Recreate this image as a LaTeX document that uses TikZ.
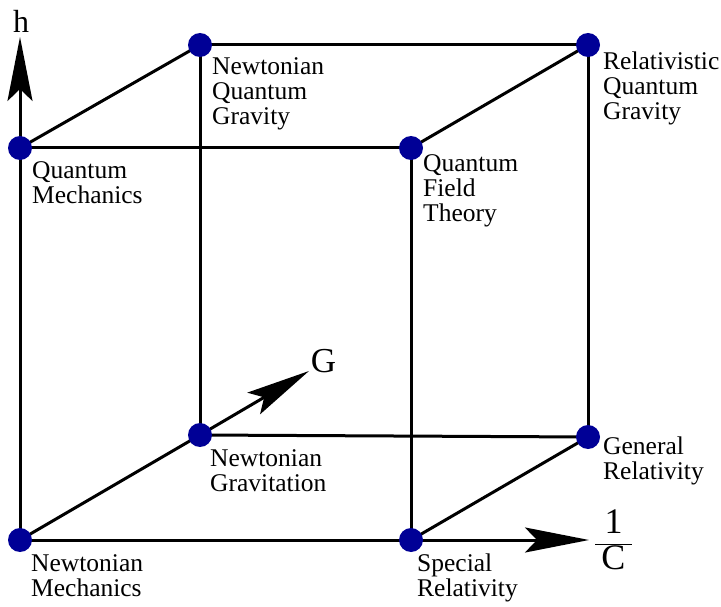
\documentclass[tikz,border=0pt]{standalone}
\usepackage{fontspec}
\setmainfont{Liberation Serif}
\usetikzlibrary{arrows.meta}
\begin{document}
\begin{tikzpicture}[x=1pt,y=-1pt,
  dot/.style={circle,fill={rgb,255:red,0;green,0;blue,150},minimum size=24pt,inner sep=0pt},
  edge/.style={line width=3pt,black},
  axis/.style={line width=3pt,-{Stealth[length=64pt,width=25pt,inset=12pt]}},
  lbl/.style={anchor=north west,inner sep=0pt,align=left,font=\fontsize{25.5}{25}\selectfont},
  axlbl/.style={inner sep=0pt}]
\useasboundingbox (0,0) rectangle (721,607);
% corners
\coordinate (NMp) at (20,540);
\coordinate (SRp) at (411,540);
\coordinate (NGp) at (200,435);
\coordinate (GRp) at (588,437);
\coordinate (QMp) at (20,148);
\coordinate (QFTp) at (411,148);
\coordinate (NQGp) at (200,45);
\coordinate (RQGp) at (588,45);
% axis ends
\coordinate (hEnd) at (20,37);
\coordinate (cEnd) at (589,540);
\coordinate (gEnd) at (309,371);
% edges
\draw[edge] (NMp) -- (SRp);
\draw[edge] (NMp) -- (NGp);
\draw[edge] (NMp) -- (QMp);
\draw[edge] (SRp) -- (GRp);
\draw[edge] (SRp) -- (QFTp);
\draw[edge] (NGp) -- (GRp);
\draw[edge] (NGp) -- (NQGp);
\draw[edge] (GRp) -- (RQGp);
\draw[edge] (QMp) -- (QFTp);
\draw[edge] (QMp) -- (NQGp);
\draw[edge] (QFTp) -- (RQGp);
\draw[edge] (NQGp) -- (RQGp);
% axes
\draw[axis] (QMp) -- (hEnd);
\draw[axis] (SRp) -- (cEnd);
\draw[axis] (NGp) -- (gEnd);
% dots
\node[dot] (NM) at (NMp) {};
\node[dot] (SR) at (SRp) {};
\node[dot] (NG) at (NGp) {};
\node[dot] (GR) at (GRp) {};
\node[dot] (QM) at (QMp) {};
\node[dot] (QFT) at (QFTp) {};
\node[dot] (NQG) at (NQGp) {};
\node[dot] (RQG) at (RQGp) {};
% labels
\node[lbl] (lNM) at (31,554) {Newtonian\\Mechanics};
\node[lbl] (lSR) at (417,554) {Special\\Relativity};
\node[lbl] (lNG) at (210,449) {Newtonian\\Gravitation};
\node[lbl] (lGR) at (603,437) {General\\Relativity};
\node[lbl] (lQM) at (32,161) {Quantum\\Mechanics};
\node[lbl] (lQFT) at (423,154) {Quantum\\Field\\Theory};
\node[lbl] (lNQG) at (212,57) {Newtonian\\Quantum\\Gravity};
\node[lbl] (lRQG) at (603,52) {Relativistic\\Quantum\\Gravity};
% axis labels
\node[axlbl,font=\fontsize{32}{32}\selectfont] (h) at (21,21) {h};
\node[axlbl,font=\fontsize{35}{35}\selectfont] (G) at (323.5,361.5) {G};
\node[axlbl,font=\fontsize{36}{36}\selectfont] (c) at (613.5,540) {$\displaystyle\frac{\hbox{1}}{\hbox{\,C\,}}$};
\end{tikzpicture}
\end{document}
